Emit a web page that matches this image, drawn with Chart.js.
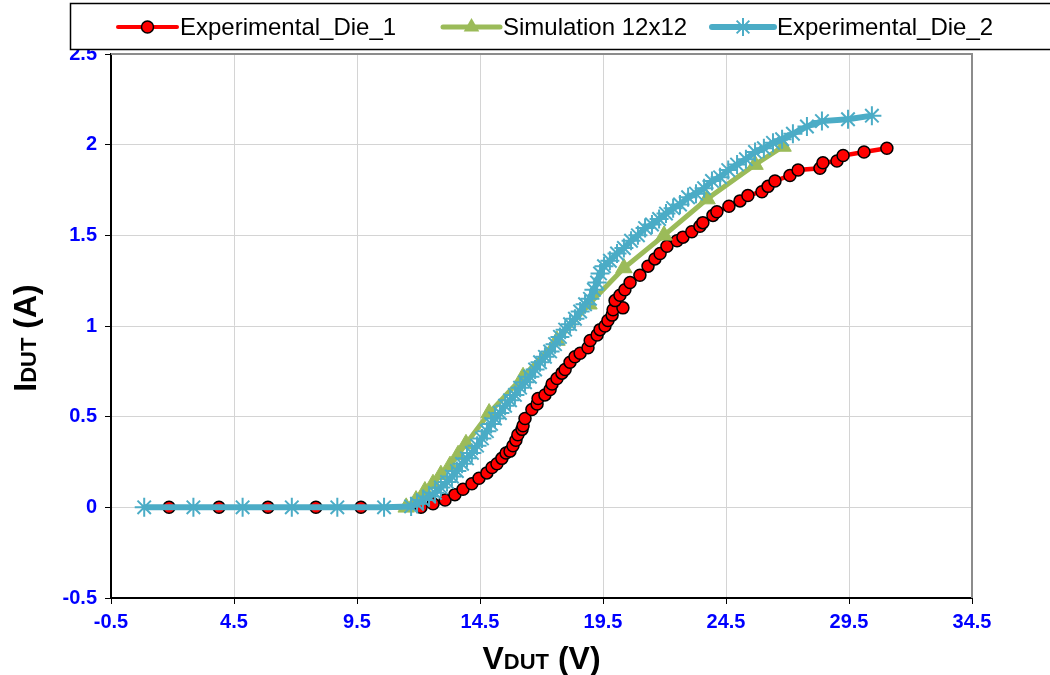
<!DOCTYPE html>
<html>
<head>
<meta charset="utf-8">
<title>IDUT vs VDUT</title>
<script src="https://cdn.jsdelivr.net/npm/chart.js@4.4.1/dist/chart.umd.min.js"></script>
<style>
  html, body { margin: 0; padding: 0; background: #fff; }
  #wrap { width: 1050px; height: 675px; }
</style>
</head>
<body>
<div id="wrap"><canvas id="ivChart" width="1050" height="675"></canvas></div>
<script>
// Measured I-V curves (V in volts, I in amps)
const seriesNames = ["Experimental_Die_1", "Simulation 12x12", "Experimental_Die_2"];

const die1V = [1.86, 3.89, 5.88, 7.83, 9.66, 12.1, 12.59, 13.08, 13.48, 13.81, 14.17, 14.46, 14.78, 14.99, 15.19,
    15.39, 15.56, 15.72, 15.84, 15.96, 16.04, 16.21, 16.25, 16.33, 16.61, 16.82, 16.86, 17.14, 17.35, 17.43,
    17.63, 17.83, 17.96, 18.16, 18.36, 18.57, 18.89, 18.98, 19.26, 19.38, 19.58, 19.70, 19.87, 19.91, 20.31,
    19.99, 20.19, 20.39, 20.60, 21.00, 21.33, 21.61, 21.82, 22.10, 22.51, 22.75, 23.11, 23.44, 23.56, 23.97,
    24.13, 24.62, 25.07, 25.39, 25.96, 26.21, 26.49, 27.10, 27.43, 28.32, 28.44, 29.01, 29.26, 30.11, 31.04];
const die1I = [0, 0, 0, 0, 0, 0, 0.02, 0.04, 0.07, 0.10, 0.13, 0.16, 0.19, 0.22, 0.24,
    0.27, 0.30, 0.31, 0.34, 0.37, 0.40, 0.43, 0.45, 0.49, 0.54, 0.57, 0.60, 0.62, 0.65, 0.68,
    0.71, 0.74, 0.76, 0.80, 0.83, 0.85, 0.88, 0.92, 0.95, 0.98, 1.00, 1.03, 1.06, 1.09, 1.10,
    1.14, 1.17, 1.20, 1.24, 1.28, 1.33, 1.37, 1.40, 1.44, 1.47, 1.49, 1.52, 1.55, 1.57, 1.61,
    1.63, 1.66, 1.69, 1.72, 1.74, 1.77, 1.80, 1.83, 1.86, 1.87, 1.90, 1.91, 1.94, 1.96, 1.98];

const simV = [11.5, 11.9, 12.26, 12.59, 12.91, 13.28, 13.61, 13.93, 14.87, 16.25, 17.63, 18.93, 20.35, 21.98, 23.73, 25.68, 26.82];
const simI = [0, 0.04, 0.09, 0.13, 0.18, 0.23, 0.29, 0.35, 0.52, 0.72, 0.92, 1.12, 1.32, 1.50, 1.70, 1.89, 1.99];

const die2V = [0.85, 2.85, 4.85, 6.85, 8.7, 10.6, 11.7, 11.94, 12.18, 12.43, 12.67, 12.91, 13.16, 13.36, 13.56,
    13.77, 13.97, 14.17, 14.38, 14.58, 14.78, 14.95, 15.11, 15.31, 15.52, 15.72, 15.92, 16.13, 16.33, 16.53,
    16.74, 16.94, 17.14, 17.35, 17.55, 17.75, 17.96, 18.16, 18.36, 18.57, 18.77, 18.97, 19.13, 19.26, 19.38,
    19.54, 19.78, 20.07, 20.35, 20.64, 20.92, 21.21, 21.49, 21.78, 22.06, 22.35, 22.63, 22.96, 23.28, 23.61,
    23.93, 24.26, 24.59, 24.95, 25.31, 25.68, 26.04, 26.41, 26.78, 27.22, 27.79, 28.40, 29.46, 30.43];
const die2I = [0, 0, 0, 0, 0, 0, 0.005, 0.02, 0.04, 0.06, 0.08, 0.11, 0.14, 0.17, 0.20,
    0.24, 0.27, 0.30, 0.34, 0.38, 0.42, 0.46, 0.49, 0.52, 0.56, 0.59, 0.62, 0.66, 0.69, 0.72,
    0.76, 0.80, 0.83, 0.86, 0.90, 0.94, 0.98, 1.01, 1.04, 1.08, 1.12, 1.15, 1.20, 1.24, 1.29,
    1.33, 1.36, 1.40, 1.43, 1.47, 1.50, 1.54, 1.56, 1.59, 1.62, 1.65, 1.67, 1.71, 1.73, 1.76,
    1.80, 1.82, 1.86, 1.89, 1.92, 1.96, 1.98, 2.01, 2.03, 2.06, 2.10, 2.13, 2.14, 2.16];

const xTickLabels = ["-0.5", "4.5", "9.5", "14.5", "19.5", "24.5", "29.5", "34.5"];
const yTickLabels = ["-0.5", "0", "0.5", "1", "1.5", "2", "2.5"];

const RED = "#FF0000", GREEN = "#9BBB59", CYAN = "#4BACC6";

function toPoints(xs, ys) {
    return xs.map((x, i) => ({ x: x, y: ys[i] }));
}

// small marker painter for the boxed legend
function drawMarker(ctx, style, x, y, r) {
    ctx.beginPath();
    if (style === "circle") {
        ctx.arc(x, y, r, 0, Math.PI * 2);
        ctx.fill();
        ctx.stroke();
    } else if (style === "triangle") {
        for (let k = 0; k < 3; k++) {
            const a = -Math.PI / 2 + k * 2 * Math.PI / 3;
            const px = x + Math.cos(a) * r, py = y + Math.sin(a) * r;
            if (k === 0) ctx.moveTo(px, py); else ctx.lineTo(px, py);
        }
        ctx.closePath();
        ctx.fill();
    } else if (style === "star") {
        for (let k = 0; k < 4; k++) {
            const a = k * Math.PI / 4;
            ctx.moveTo(x - Math.cos(a) * r, y - Math.sin(a) * r);
            ctx.lineTo(x + Math.cos(a) * r, y + Math.sin(a) * r);
        }
        ctx.stroke();
    }
}

function drawMixed(ctx, parts, x, y) {
    // parts: [text, fontSize]; centred on x, baseline at y
    let total = 0;
    parts.forEach(p => { ctx.font = "bold " + p[1] + "px 'Liberation Sans', Arial"; total += ctx.measureText(p[0]).width; });
    let cx = x - total / 2;
    parts.forEach(p => {
        ctx.font = "bold " + p[1] + "px 'Liberation Sans', Arial";
        ctx.fillText(p[0], cx, y);
        cx += ctx.measureText(p[0]).width;
    });
}

const frameAndTitles = {
    id: "frameAndTitles",
    beforeDatasetsDraw(chart) {
        // grey top/right edges of the plot frame
        const { ctx, chartArea: a } = chart;
        ctx.save();
        ctx.strokeStyle = "#8c8c8c";
        ctx.lineWidth = 2;
        ctx.beginPath();
        ctx.moveTo(a.left, a.top);
        ctx.lineTo(a.right, a.top);
        ctx.lineTo(a.right, a.bottom);
        ctx.stroke();
        ctx.restore();
    },
    afterDraw(chart) {
        const { ctx, chartArea: a } = chart;
        ctx.save();
        ctx.fillStyle = "#000";
        ctx.textBaseline = "alphabetic";
        drawMixed(ctx, [["V", 32], ["DUT", 22], [" (V)", 32]], (a.left + a.right) / 2, 669);
        ctx.translate(36, 338);
        ctx.rotate(-Math.PI / 2);
        drawMixed(ctx, [["I", 32], ["DUT", 22], [" (A)", 32]], 0, 0);
        ctx.restore();

        // boxed legend across the top
        ctx.save();
        ctx.fillStyle = "#fff";
        ctx.fillRect(70, 3, 990, 47);
        ctx.strokeStyle = "#000";
        ctx.lineWidth = 1.5;
        ctx.strokeRect(70.5, 3.5, 990, 46);
        const items = [
            { x0: 118, x1: 177, tx: 180, color: RED, width: 4, style: "circle", r: 6 },
            { x0: 443, x1: 500, tx: 503, color: GREEN, width: 5, style: "triangle", r: 9 },
            { x0: 712, x1: 774, tx: 777, color: CYAN, width: 6, style: "star", r: 9 }
        ];
        const ly = 27;
        items.forEach((it, i) => {
            ctx.strokeStyle = it.color;
            ctx.lineWidth = it.width;
            ctx.lineCap = "round";
            ctx.beginPath();
            ctx.moveTo(it.x0, ly);
            ctx.lineTo(it.x1, ly);
            ctx.stroke();
            ctx.lineCap = "butt";
            const mx = (it.x0 + it.x1) / 2;
            if (it.style === "circle") {
                ctx.fillStyle = RED; ctx.strokeStyle = "#000"; ctx.lineWidth = 1.5;
            } else if (it.style === "triangle") {
                ctx.fillStyle = GREEN;
            } else {
                ctx.strokeStyle = CYAN; ctx.lineWidth = 2;
            }
            drawMarker(ctx, it.style, mx, ly, it.r);
            ctx.fillStyle = "#000";
            ctx.font = "24px 'Liberation Sans', Arial";
            ctx.textBaseline = "middle";
            ctx.fillText(seriesNames[i], it.tx, ly + 1);
        });
        ctx.restore();
    }
};

const tickFont = { family: "'Liberation Sans', Arial", size: 20, weight: "bold" };

const ctx = document.getElementById("ivChart").getContext("2d");
new Chart(ctx, {
    type: "scatter",
    data: {
        // first dataset is painted on top
        datasets: [
            {
                label: seriesNames[2],
                data: toPoints(die2V, die2I),
                showLine: true,
                borderColor: CYAN,
                borderWidth: 6,
                pointStyle: "star",
                pointRadius: 9.5,
                pointBorderColor: CYAN,
                pointBackgroundColor: CYAN,
                pointBorderWidth: 2,
                tension: 0
            },
            {
                label: seriesNames[1],
                data: toPoints(simV, simI),
                showLine: true,
                borderColor: GREEN,
                borderWidth: 5,
                pointStyle: "triangle",
                pointRadius: 9.5,
                pointBorderColor: GREEN,
                pointBackgroundColor: GREEN,
                pointBorderWidth: 1,
                tension: 0
            },
            {
                label: seriesNames[0],
                data: toPoints(die1V, die1I),
                showLine: true,
                borderColor: RED,
                borderWidth: 4.5,
                pointStyle: "circle",
                pointRadius: 6,
                pointBorderColor: "#000",
                pointBackgroundColor: RED,
                pointBorderWidth: 1.5,
                tension: 0
            }
        ]
    },
    options: {
        responsive: false,
        devicePixelRatio: 1,
        animation: false,
        layout: { padding: { top: 54, right: 78, left: 0, bottom: 0 } },
        plugins: {
            legend: { display: false },
            tooltip: { enabled: false }
        },
        scales: {
            x: {
                type: "linear",
                min: -0.5,
                max: 34.5,
                afterFit: (axis) => { axis.height = 77; },
                ticks: {
                    stepSize: 5,
                    color: "#0000FF",
                    font: tickFont,
                    padding: 6,
                    maxRotation: 0,
                    callback: (v, i) => xTickLabels[i]
                },
                grid: { color: "#d4d4d4", lineWidth: 1, tickColor: "#000", tickLength: 6 },
                border: { color: "#000", width: 2 }
            },
            y: {
                type: "linear",
                min: -0.5,
                max: 2.5,
                afterFit: (axis) => { axis.width = 111; },
                ticks: {
                    stepSize: 0.5,
                    color: "#0000FF",
                    font: tickFont,
                    padding: 8,
                    callback: (v, i) => yTickLabels[i]
                },
                grid: { color: "#d4d4d4", lineWidth: 1, tickColor: "#000", tickLength: 6 },
                border: { color: "#000", width: 2 }
            }
        }
    },
    plugins: [frameAndTitles]
});
</script>
</body>
</html>
